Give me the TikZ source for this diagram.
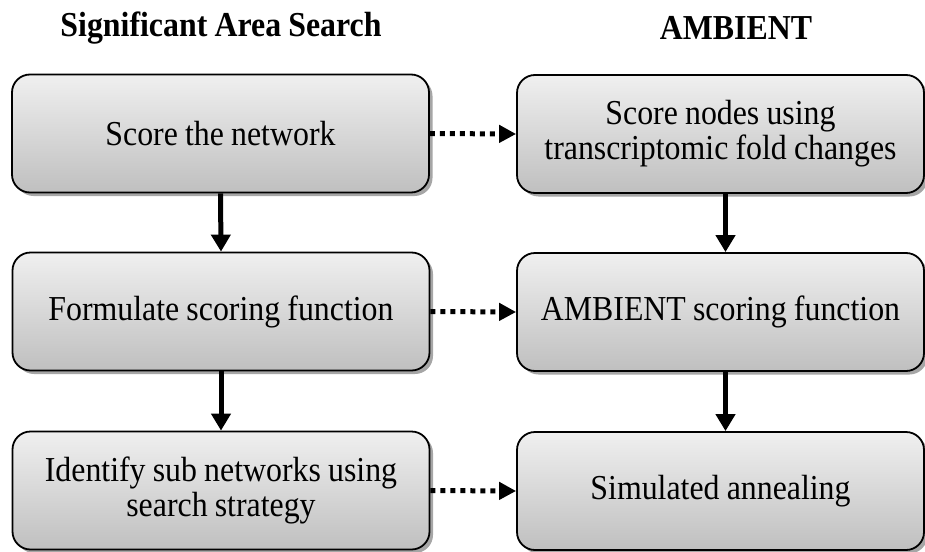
\documentclass[tikz,border=0pt]{standalone}
\usepackage{fontspec}
\setmainfont{Liberation Serif}[FakeStretch=0.91, WordSpace=0.9]
\usetikzlibrary{arrows.meta,shadows}
\begin{document}
\begin{tikzpicture}[x=1pt,y=-1pt,
  box/.style={rectangle, rounded corners=18pt, draw=black, line width=1.8pt,
    top color=gray!12, bottom color=gray!50,
    drop shadow={shadow xshift=3.5pt, shadow yshift=-3.5pt, fill=gray!70, opacity=1},
    minimum height=118pt, align=center, inner sep=4pt,
    font=\fontsize{35}{35}\selectfont},
  lbox/.style={box, minimum width=417pt},
  rbox/.style={box, minimum width=407pt},
  title/.style={font=\fontsize{35}{35}\selectfont\bfseries},
  solidarrow/.style={line width=5pt, -{Triangle[length=17pt,width=19pt]}},
  dotarrow/.style={line width=5pt, dash pattern=on 5pt off 5pt, -{Triangle[length=17pt,width=17pt]}}
]
\useasboundingbox (0,0) rectangle (925,551);
\node[title] (t1) at (221,28) {Significant Area Search};
\node[title] (t2) at (736,28) {AMBIENT};

\node[lbox] (L1) at (220.5,133.5) {Score the network};
\node[lbox] (L2) at (221,311.5) {Formulate scoring function};
\node[lbox] (L3) at (221,490.5) {Identify sub networks using\\search strategy};

\node[rbox] (R1) at (720.5,134) {Score nodes using\\transcriptomic fold changes};
\node[rbox] (R2) at (720.5,312) {AMBIENT scoring function};
\node[rbox] (R3) at (720.5,491) {Simulated annealing};

\draw[solidarrow] (L1.south) -- (L2.north);
\draw[solidarrow] (L2.south) -- (L3.north);
\draw[solidarrow] ([xshift=5pt]R1.south) -- ([xshift=5pt]R2.north);
\draw[solidarrow] ([xshift=5pt]R2.south) -- ([xshift=5pt]R3.north);

\draw[dotarrow] (L1.east) -- (R1.west);
\draw[dotarrow] (L2.east) -- (R2.west);
\draw[dotarrow] (L3.east) -- (R3.west);
\end{tikzpicture}
\end{document}
